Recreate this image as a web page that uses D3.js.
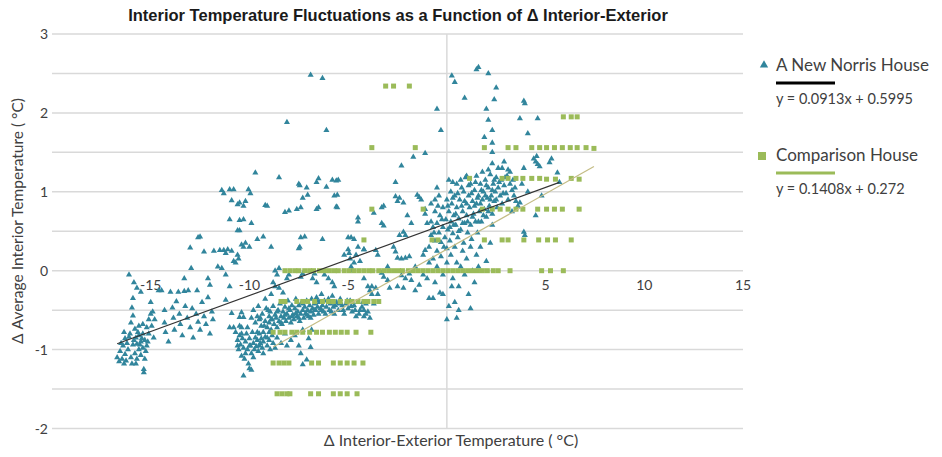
<!DOCTYPE html>
<html>
<head>
<meta charset="utf-8">
<script src="https://cdn.jsdelivr.net/npm/d3@7"></script>
<style>
  body { margin: 0; background: #fff; }
  text { font-family: Lato, "Noto Sans", sans-serif; }
</style>
</head>
<body>
<script>
// ---- data ----
const yTicks = [-2, -1, 0, 1, 2, 3];
const yGrid = [-2, -1.5, -1, -0.5, 0, 0.5, 1, 1.5, 2, 2.5, 3];
const xTickLabels = [-15, -10, -5, 5, 10, 15];

const seriesNames = ["A New Norris House", "Comparison House"];
const fitSlopes = [0.0913, 0.1408];
const fitIntercepts = [0.5995, 0.272];

// A New Norris House: [Δ interior-exterior, Δ average interior]
const norris = [
  // far left
  [-16.7,-1.1],[-16.6,-1.15],[-16.55,-1.02],[-16.45,-1.12],[-16.4,-0.95],[-16.35,-0.78],[-16.3,-1.06],[-16.3,-0.86],
  [-16.2,-0.92],[-16.15,-1.0],[-16.1,-0.05],[-16.05,-0.8],[-16.0,-0.66],[-16.0,-1.1],[-15.95,-1.18],[-15.95,-0.47],
  [-15.9,-0.35],[-15.9,-0.57],[-15.9,-0.94],[-15.85,-0.15],[-15.8,-0.74],[-15.8,-1.05],[-15.75,-0.85],[-15.7,-0.22],
  [-15.7,-0.93],[-15.7,-1.12],[-15.6,-0.7],[-15.6,-0.82],[-15.6,-1.0],[-15.5,-0.27],[-15.5,-0.9],[-15.5,-1.07],
  [-15.4,-0.68],[-15.4,-0.8],[-15.4,-0.98],[-15.35,-1.25],[-15.35,-1.29],[-15.3,-0.88],[-15.3,-1.12],[-15.2,-0.72],
  [-15.2,-0.95],[-15.1,-0.62],[-15.1,-0.8],[-15.0,-0.4],[-15.0,-0.55],[-14.9,-0.52],[-14.95,-0.7],[-14.85,-0.85],[-14.8,-0.62],
  [-16.5,-0.92],[-16.25,-1.14],[-16.1,-0.84],[-15.85,-0.88],[-15.65,-0.78],[-15.55,-0.94],[-15.45,-0.86],[-15.25,-1.02],
  [-16.35,-1.18],[-15.75,-1.18],[-15.15,-0.9],
  // -15 .. -12
  [-14.6,-0.25],[-14.45,-0.25],[-14.3,-0.5],[-14.3,-0.66],[-14.25,-0.78],[-14.1,-0.9],[-14.0,-0.27],[-13.9,-0.47],
  [-13.85,-0.6],[-13.8,-0.75],[-13.7,-0.39],[-13.6,-0.27],[-13.55,-0.55],[-13.5,-0.68],[-13.4,-0.82],[-13.3,-0.26],
  [-13.25,-0.45],[-13.15,-0.6],[-13.1,-0.25],[-13.0,-0.72],[-12.95,0.03],[-12.9,-0.48],[-12.85,-0.85],[-12.7,-0.55],
  [-12.65,-0.25],[-12.6,-0.65],[-12.6,0.42],[-12.5,0.43],[-12.5,-0.75],[-12.4,-0.4],[-12.3,0.24],[-12.3,-0.58],
  [-12.2,-0.68],[-12.1,-0.1],[-12.1,-0.34],[-12.0,-0.8],[-12.0,-0.18],[-11.9,-0.52],[-11.85,-0.62],[-13.0,0.29],[-13.3,-0.1],
  // arm rising towards -10
  [-11.8,0.25],[-11.6,0.05],[-11.5,0.26],[-11.4,0.03],[-11.3,0.26],[-11.2,0.22],[-11.2,-0.05],[-11.1,0.27],[-11.0,-0.2],
  [-10.9,0.25],[-10.8,0.12],[-10.7,0.1],[-10.6,0.2],[-10.55,0.15],[-10.5,0.51],[-10.4,0.33],[-10.3,0.3],[-10.2,0.35],
  [-11.2,-0.37],[-10.5,-0.59],[-10.3,-0.59],[-11.0,-0.72],[-10.4,-0.72],[-10.9,-0.54],[-10.4,-0.53],
  // upper left cloud
  [-11.4,1.02],[-11.3,0.98],[-11.0,1.03],[-10.8,1.03],[-10.05,1.03],[-9.95,0.98],[-10.9,0.89],[-10.6,0.84],[-10.3,0.82],
  [-10.2,0.88],[-10.5,0.86],[-11.0,0.65],[-10.3,0.65],[-10.5,0.64],[-9.7,1.24],[-9.2,0.83],[-9.1,0.82],[-9.3,0.43],
  [-9.9,0.6],[-9.6,0.4],[-10.0,0.3],[-10.6,0.51],
  // -9.5 .. -4.5 upper
  [-8.5,1.18],[-7.5,1.1],[-7.45,1.08],[-7.3,0.92],[-7.4,0.8],[-7.1,1.05],[-7.05,0.96],[-6.6,1.12],[-6.5,1.17],[-6.5,0.8],
  [-6.6,0.78],[-6.1,1.06],[-5.8,1.15],[-5.6,1.14],[-5.5,1.15],[-5.55,0.96],[-5.7,0.95],[-5.6,0.81],[-5.55,0.8],[-8.2,0.74],
  [-8.0,0.76],[-7.6,0.78],[-7.4,0.42],[-7.2,0.43],[-6.3,0.4],[-7.5,0.28],[-7.45,0.3],[-8.9,0.3],[-5.0,0.42],[-4.85,0.42],
  [-4.7,0.4],[-4.5,0.67],[-4.5,0.62],
  [-6.9,2.48],[-6.3,2.44],[-8.1,1.88],[-6.1,1.78],
  // along the fit line
  [-8.7,0.0],[-8.6,-0.05],[-8.5,0.03],[-8.8,-0.15],[-8.7,-0.2],[-8.5,-0.22],[-8.3,-0.28],[-8.1,-0.1],[-8.0,-0.05],[-7.4,-0.08],
  [-7.3,-0.04],[-6.8,-0.1],[-6.7,-0.04],[-6.6,-0.15],[-6.2,-0.05],[-6.0,-0.1],[-5.8,-0.15],[-5.7,-0.2],[-5.0,0.27],[-4.95,0.22],
  [-4.9,0.15],[-4.85,0.05],[-4.8,0.0],[-4.7,0.1],[-4.6,0.2],[-4.5,0.3],[-4.4,0.12],[-4.2,-0.1],[-4.0,-0.2],[-3.9,-0.25],
  [-3.8,-0.3],[-5.2,0.2],[-4.2,0.27],
  // dense band
  [-9.5,-0.62],[-9.4,-0.7],[-9.35,-0.55],[-9.3,-0.78],[-9.2,-0.64],[-9.15,-0.48],[-9.1,-0.72],[-9.0,-0.58],[-9.0,-0.66],
  [-8.95,-0.52],[-8.9,-0.75],[-8.85,-0.62],[-8.8,-0.45],[-8.75,-0.68],[-8.7,-0.56],[-8.65,-0.6],[-8.6,-0.72],[-8.55,-0.5],
  [-8.5,-0.64],[-8.45,-0.42],[-8.4,-0.58],[-8.35,-0.68],[-8.3,-0.52],[-8.25,-0.6],[-8.2,-0.46],[-8.15,-0.64],[-8.1,-0.55],
  [-8.05,-0.38],[-8.0,-0.6],[-7.95,-0.5],[-7.9,-0.66],[-7.85,-0.44],[-7.8,-0.56],[-7.75,-0.62],[-7.7,-0.48],[-7.65,-0.36],
  [-7.6,-0.58],[-7.55,-0.52],[-7.5,-0.44],[-7.45,-0.64],[-7.4,-0.55],[-7.35,-0.4],[-7.3,-0.5],[-7.25,-0.6],[-7.2,-0.46],
  [-7.15,-0.54],[-7.1,-0.38],[-7.05,-0.5],[-7.0,-0.58],[-6.95,-0.44],[-6.9,-0.52],[-6.85,-0.36],[-6.8,-0.48],[-6.75,-0.56],
  [-6.7,-0.42],[-6.65,-0.5],[-6.6,-0.34],[-6.55,-0.46],[-6.5,-0.55],[-6.45,-0.4],[-6.4,-0.48],[-6.35,-0.3],[-6.3,-0.44],
  [-6.25,-0.52],[-6.2,-0.38],[-6.1,-0.46],[-6.0,-0.36],[-5.95,-0.5],[-5.9,-0.42],[-5.8,-0.32],[-5.75,-0.46],[-5.7,-0.55],
  [-5.6,-0.4],[-5.5,-0.5],[-5.4,-0.36],[-5.3,-0.44],[-5.2,-0.55],[-5.1,-0.42],[-5.0,-0.48],[-4.9,-0.38],[-4.8,-0.52],
  [-4.7,-0.44],[-4.6,-0.58],[-4.5,-0.4],[-4.4,-0.5],[-4.3,-0.46],[-4.2,-0.58],[-4.1,-0.42],[-4.0,-0.52],[-3.9,-0.6],
  [-9.6,-0.58],[-9.7,-0.66],[-9.8,-0.5],[-9.9,-0.6],[-9.55,-0.45],[-9.2,-0.36],[-8.9,-0.3],
  [-9.45,-0.6],[-9.25,-0.7],[-9.05,-0.5],[-8.9,-0.62],[-8.6,-0.52],[-8.4,-0.66],[-8.2,-0.56],[-8.0,-0.48],[-7.85,-0.58],
  [-7.65,-0.54],[-7.5,-0.6],[-7.3,-0.42],[-7.1,-0.56],[-6.9,-0.6],[-6.7,-0.5],[-6.55,-0.38],[-6.35,-0.5],[-6.15,-0.55],
  [-5.95,-0.4],[-5.85,-0.52],[-5.65,-0.44],[-5.45,-0.42],[-5.25,-0.5],[-5.05,-0.38],[-4.85,-0.45],[-4.65,-0.5],
  [-4.45,-0.55],[-4.25,-0.4],
  // lower left cluster near -10
  [-10.7,-0.78],[-10.6,-0.88],[-10.55,-1.0],[-10.5,-0.82],[-10.45,-0.94],[-10.4,-1.08],[-10.35,-0.86],[-10.3,-0.98],
  [-10.25,-1.12],[-10.2,-0.9],[-10.15,-0.8],[-10.1,-1.0],[-10.05,-1.18],[-10.0,-0.86],[-9.95,-0.95],[-9.9,-1.05],
  [-9.85,-0.78],[-9.8,-0.92],[-9.75,-1.0],[-9.7,-0.85],[-9.65,-0.96],[-9.6,-0.88],[-9.55,-1.02],[-9.5,-0.8],[-9.45,-0.92],
  [-9.4,-0.86],[-9.35,-0.98],[-9.3,-0.9],[-9.2,-0.84],[-9.1,-0.95],[-9.0,-0.88],[-8.95,-1.0],[-8.85,-0.82],[-8.8,-0.92],
  [-8.7,-0.98],[-10.0,-1.24],[-10.3,-1.33],[-9.9,-1.26],[-10.8,-0.72],[-10.5,-0.7],[-9.0,-0.78],[-8.6,-0.85],[-8.4,-0.92],
  [-8.2,-0.8],[-8.1,-0.95],[-7.9,-0.88],[-7.7,-0.82],[-7.3,-0.75],[-7.0,-0.86],[-6.9,-0.97],[-7.3,-1.19],[-7.1,-1.13],
  [-7.4,-1.05],[-6.85,-0.75],[-7.5,-0.95],
  [-10.6,-0.95],[-10.4,-0.8],[-10.2,-1.05],[-10.0,-0.95],[-9.8,-1.1],[-9.6,-0.78],[-9.5,-0.95],[-9.3,-1.05],[-9.1,-0.85],[-10.1,-0.72],
  // -4.5 .. -1
  [-2.6,1.12],[-2.5,0.88],[-2.4,0.92],[-3.3,0.8],[-3.2,0.82],[-3.7,0.73],[-3.3,0.6],[-3.2,0.57],[-2.6,0.94],[-2.3,1.33],
  [-2.2,0.86],[-1.7,1.44],[-1.5,0.96],[-1.4,0.93],[-1.3,0.9],[-2.4,0.45],[-2.2,0.49],[-2.1,0.45],[-1.1,0.72],[-1.0,0.6],
  [-1.1,0.78],[-4.2,0.27],[-3.6,0.26],[-3.5,0.2],[-2.7,0.3],[-2.6,0.24],[-2.5,0.16],[-2.3,0.15],[-2.1,0.16],[-1.9,0.18],
  [-1.1,0.26],[-3.3,-0.03],[-3.2,-0.08],[-3.0,-0.12],[-2.3,-0.06],[-2.1,-0.1],[-1.9,-0.04],[-1.8,-0.12],[-1.0,-0.1],
  [-1.2,-0.05],[-3.8,-0.2],[-3.6,-0.22],[-3.5,-0.3],[-3.7,-0.42],[-4.2,-0.5],[-4.1,-0.55],[-2.5,-0.2],[-2.2,-0.22],
  [-1.6,-0.25],[-1.4,-0.18],[-0.35,-0.28],[-0.9,-0.35],[-2.9,-0.22],[-3.0,0.05],[-1.6,0.05],[-0.6,0.9],[-0.8,0.85],
  [-0.5,1.05],[-1.8,0.6],[-2.0,0.7],
  // dense cluster right of zero
  [-0.9,0.3],[-0.8,0.45],[-0.7,0.55],[-0.6,0.38],[-0.5,0.6],[-0.5,0.25],[-0.4,0.48],[-0.35,0.7],[-0.3,0.36],[-0.2,0.55],
  [-0.2,0.8],[-0.1,0.42],[-0.05,0.65],[0.0,0.28],[0.0,0.9],[0.05,0.52],[0.1,0.75],[0.15,0.38],[0.2,0.62],[0.2,1.0],
  [0.25,0.85],[0.3,0.47],[0.35,0.7],[0.4,0.3],[0.4,0.95],[0.45,0.58],[0.5,0.8],[0.5,1.1],[0.55,0.42],[0.6,0.66],
  [0.65,0.9],[0.7,0.52],[0.75,1.05],[0.8,0.75],[0.85,0.35],[0.9,0.6],[0.9,0.88],[0.95,1.18],[1.0,0.7],[1.05,0.48],
  [1.1,0.95],[1.15,0.8],[1.2,1.1],[1.2,0.58],[1.25,0.4],[1.3,0.88],[1.35,0.72],[1.4,1.02],[1.45,0.62],[1.5,0.85],
  [1.5,1.2],[1.55,0.48],[1.6,0.95],[1.65,0.75],[1.7,1.1],[1.75,0.62],[1.8,0.9],[1.85,1.0],[1.9,0.78],[1.95,1.15],
  [2.0,0.68],[2.05,0.92],[2.1,1.05],[2.15,0.82],[2.2,1.22],[2.25,0.95],[2.3,0.72],[2.35,1.1],[2.4,0.88],[2.45,1.0],
  [2.5,1.18],[2.55,0.8],[2.6,1.05],[2.7,0.95],[2.75,1.15],[2.8,0.85],[2.9,1.08],[3.0,0.98],[3.05,1.2],[3.1,0.9],
  [3.2,1.25],[3.3,1.02],[3.4,0.95],[3.5,0.88],[3.6,0.82],[1.0,1.2],[0.7,1.15],[0.3,1.12],[-0.4,0.95],[-0.6,0.75],
  [0.1,1.15],[1.8,1.25],[2.1,1.28],[2.3,1.36],[2.6,1.3],[2.8,1.3],[3.1,1.28],
  [-0.8,0.62],[-0.65,0.48],[-0.45,0.82],[-0.25,0.65],[-0.15,0.3],[0.05,0.82],[0.15,0.55],[0.3,0.92],[0.35,0.58],[0.45,0.72],
  [0.55,0.98],[0.6,0.5],[0.75,0.82],[0.8,0.6],[0.85,1.0],[1.0,0.85],[1.05,0.62],[1.1,1.08],[1.25,0.98],[1.3,0.68],
  [1.4,0.82],[1.45,1.12],[1.55,0.92],[1.6,0.62],[1.7,0.85],[1.75,1.02],[1.85,0.7],[1.95,0.95],[2.0,1.08],[2.1,0.75],
  [2.2,0.9],[2.3,1.02],[2.4,1.15],[2.5,0.9],[2.65,1.12],[2.85,0.98],[2.95,1.18],[3.2,1.1],[3.35,1.15],[3.45,1.05],
  // below the cluster
  [-1.2,0.2],[-0.9,0.1],[-0.7,0.15],[-0.5,0.05],[-0.3,0.18],[-0.2,-0.05],[0.0,0.1],[0.2,0.2],[0.3,-0.1],[0.5,0.1],
  [0.6,-0.2],[0.7,0.05],[0.8,0.25],[0.9,-0.05],[1.0,0.15],[1.1,-0.3],[1.2,0.3],[1.3,0.0],[1.4,-0.15],[1.5,0.2],
  [1.6,0.05],[1.7,0.3],[2.0,0.12],[2.2,0.35],[0.4,-0.4],[0.6,-0.5],[-0.6,-0.15],[-0.2,-0.3],[0.1,-0.45],[0.0,-0.62],
  [0.5,-0.6],[1.2,-0.48],[-0.7,-0.35],[0.25,-0.2],
  // right side
  [3.7,0.86],[4.5,0.7],[3.9,0.49],[3.95,0.45],[4.1,1.0],[2.3,0.58],[3.9,1.3],[4.5,1.38],[4.4,1.42],[4.6,1.35],
  [4.55,1.45],[4.7,1.32],[5.2,1.37],[5.3,1.42],[5.6,1.24],[5.7,1.12],[4.8,0.95],[3.3,0.75],[3.8,1.1],
  // top outliers
  [0.25,2.47],[0.4,2.39],[1.5,2.55],[1.6,2.58],[2.1,2.5],[2.5,2.32],[0.9,2.19],[2.4,2.17],[3.9,2.15],[3.95,2.12],
  [-0.5,2.05],[2.0,2.05],[2.1,1.91],[3.7,1.93],[4.6,1.93],[-0.3,1.78],[2.3,1.78],[4.1,1.74],[1.9,1.69],[2.3,1.62],
  [-1.1,1.49],[2.3,1.5],[2.9,1.38]
];

// Comparison House: readings sit on discrete levels
const comparison = [
  [-3.1,2.34],[-2.7,2.34],[-1.9,2.34],
  [5.9,1.95],[6.3,1.95],[6.6,1.95],
  [-3.8,1.56],[-1.6,1.56],[1.9,1.56],[3.1,1.56],[3.5,1.56],[4.3,1.56],[4.7,1.56],[5.05,1.56],[5.45,1.56],[5.85,1.56],
  [6.25,1.56],[6.6,1.56],[7.05,1.56],[7.45,1.55],
  [1.15,1.17],[2.8,1.17],[3.1,1.17],[3.5,1.17],[3.85,1.17],[4.3,1.17],[4.7,1.17],[5.05,1.16],[5.5,1.16],[6.3,1.17],[6.7,1.16],
  [-3.8,0.78],[-1.2,0.78],[1.8,0.78],[2.3,0.78],[2.7,0.78],[3.1,0.78],[3.5,0.78],[3.85,0.78],[4.6,0.78],[5.05,0.78],
  [5.45,0.78],[5.85,0.78],[6.7,0.78],
  [-4.2,0.39],[-0.75,0.39],[-0.45,0.39],[1.9,0.39],[2.8,0.39],[3.1,0.39],[3.9,0.39],[4.65,0.39],[5.1,0.39],[5.5,0.39],[6.3,0.39],
  [-8.2,0],[-7.95,0],[-7.7,0],[-7.5,0],[-7.2,0],[-6.95,0],[-6.75,0],[-6.45,0],[-6.2,0],[-5.95,0],[-5.7,0],[-5.5,0],
  [-5.2,0],[-4.95,0],[-4.7,0],[-4.45,0],[-4.2,0],[-3.95,0],[-3.75,0],[-3.45,0],[-3.2,0],[-2.95,0],[-2.7,0],[-2.45,0],
  [-2.25,0],[-1.95,0],[-1.7,0],[-1.45,0],[-1.2,0],[-0.95,0],[-0.7,0],[-0.45,0],[-0.2,0],[0.05,0],[0.3,0],[0.55,0],
  [0.8,0],[1.05,0],[1.3,0],[1.55,0],[1.8,0],[2.05,0],[2.35,0],[2.6,0],[3.2,0],[4.8,0],[5.25,0],[5.9,0],
  [-8.4,-0.39],[-8.2,-0.39],[-7.6,-0.39],[-7.3,-0.39],[-7.05,-0.39],[-6.7,-0.39],[-6.3,-0.39],[-6.0,-0.39],[-5.75,-0.39],
  [-5.4,-0.39],[-5.05,-0.39],[-4.8,-0.39],[-4.5,-0.39],[-4.2,-0.39],[-4.0,-0.39],[-3.7,-0.39],[-3.45,-0.39],
  [-8.8,-0.78],[-8.45,-0.78],[-8.2,-0.78],[-7.85,-0.78],[-7.6,-0.78],[-7.3,-0.78],[-6.95,-0.78],[-6.6,-0.78],[-6.3,-0.78],
  [-5.95,-0.78],[-5.65,-0.78],[-5.35,-0.78],[-5.05,-0.78],[-4.6,-0.78],[-3.85,-0.78],
  [-8.8,-1.17],[-8.5,-1.17],[-8.25,-1.17],[-8.0,-1.17],[-6.85,-1.17],[-6.5,-1.17],[-5.75,-1.17],[-5.4,-1.17],[-5.05,-1.17],
  [-4.7,-1.17],[-4.25,-1.17],
  [-8.6,-1.56],[-8.35,-1.56],[-8.1,-1.56],[-7.95,-1.56],[-6.9,-1.56],[-6.5,-1.56],[-5.75,-1.56],[-5.4,-1.56],[-5.05,-1.56],[-4.55,-1.56]
];

// ---- drawing ----
const width = 942, height = 457;
const blue = "#31859c", green = "#9bbb59";

const svg = d3.select("body").append("svg")
  .attr("width", width)
  .attr("height", height);

const x = d3.scaleLinear().domain([-20, 15]).range([52, 743]);
const y = d3.scaleLinear().domain([-2, 3]).range([428.5, 34]);

// horizontal gridlines
svg.append("g").selectAll("line")
  .data(yGrid)
  .join("line")
  .attr("x1", x(-20)).attr("x2", x(15))
  .attr("y1", d => y(d)).attr("y2", d => y(d))
  .attr("stroke", "#d9d9d9")
  .attr("stroke-width", 1.5);

// vertical axis line at x = 0
svg.append("line")
  .attr("x1", x(0)).attr("x2", x(0))
  .attr("y1", y(3)).attr("y2", y(-2))
  .attr("stroke", "#d9d9d9")
  .attr("stroke-width", 1.5);

// y tick labels at the left
svg.append("g").selectAll("text")
  .data(yTicks)
  .join("text")
  .attr("x", 48)
  .attr("y", d => y(d) + 5)
  .attr("text-anchor", "end")
  .attr("font-size", 14)
  .attr("fill", "#404040")
  .text(d => d);

// x tick labels below the zero line
svg.append("g").selectAll("text")
  .data(xTickLabels)
  .join("text")
  .attr("x", d => x(d))
  .attr("y", y(0) + 19)
  .attr("text-anchor", "middle")
  .attr("font-size", 14)
  .attr("fill", "#404040")
  .text(d => d);

// points
const tri = d3.symbol().type(d3.symbolTriangle).size(16);
svg.append("g").selectAll("path")
  .data(norris)
  .join("path")
  .attr("d", tri)
  .attr("transform", d => `translate(${x(d[0])},${y(d[1])})`)
  .attr("fill", blue);

svg.append("g").selectAll("rect")
  .data(comparison)
  .join("rect")
  .attr("x", d => x(d[0]) - 2.5)
  .attr("y", d => y(d[1]) - 2.5)
  .attr("width", 5)
  .attr("height", 5)
  .attr("fill", green);

// linear fits over each series' x range
const fitColors = ["#333333", "#c4bc85"];
[norris, comparison].forEach((pts, i) => {
  const ext = d3.extent(pts, d => d[0]);
  svg.append("line")
    .attr("x1", x(ext[0])).attr("y1", y(fitSlopes[i] * ext[0] + fitIntercepts[i]))
    .attr("x2", x(ext[1])).attr("y2", y(fitSlopes[i] * ext[1] + fitIntercepts[i]))
    .attr("stroke", fitColors[i])
    .attr("stroke-width", 1.2);
});

// title
svg.append("text")
  .attr("x", 398)
  .attr("y", 21)
  .attr("text-anchor", "middle")
  .attr("font-size", 16.5)
  .attr("font-weight", "bold")
  .style("font-family", "'Liberation Sans Narrow', 'Arial Narrow', sans-serif")
  .attr("fill", "#1a1a1a")
  .text("Interior Temperature Fluctuations as a Function of Δ Interior-Exterior");

// axis titles
svg.append("text")
  .attr("transform", `translate(23,221) rotate(-90)`)
  .attr("text-anchor", "middle")
  .attr("font-size", 15.5)
  .attr("fill", "#404040")
  .text("Δ Average Interior Temperature ( °C)");

svg.append("text")
  .attr("x", 451)
  .attr("y", 446)
  .attr("text-anchor", "middle")
  .attr("font-size", 16)
  .attr("fill", "#404040")
  .text("Δ Interior-Exterior Temperature ( °C)");

// legend
const legend = svg.append("g");
const legendTop = [71, 161];
const legendMark = ["tri", "sq"];
seriesNames.forEach((name, i) => {
  const ty = legendTop[i];
  if (legendMark[i] === "tri") {
    legend.append("path")
      .attr("d", d3.symbol().type(d3.symbolTriangle).size(30))
      .attr("transform", `translate(764,${ty - 6})`)
      .attr("fill", blue);
  } else {
    legend.append("rect")
      .attr("x", 758).attr("y", ty - 9)
      .attr("width", 8).attr("height", 8)
      .attr("fill", green);
  }
  legend.append("text")
    .attr("x", 776).attr("y", ty)
    .attr("font-size", 17)
    .attr("fill", "#404040")
    .text(name);
  legend.append("line")
    .attr("x1", 776).attr("x2", 835)
    .attr("y1", ty + 12).attr("y2", ty + 12)
    .attr("stroke", i === 0 ? "#000" : green)
    .attr("stroke-width", 3);
  legend.append("text")
    .attr("x", 776).attr("y", ty + 33)
    .attr("font-size", 14.5)
    .attr("fill", "#404040")
    .text(`y = ${fitSlopes[i]}x + ${fitIntercepts[i]}`);
});
</script>
</body>
</html>
